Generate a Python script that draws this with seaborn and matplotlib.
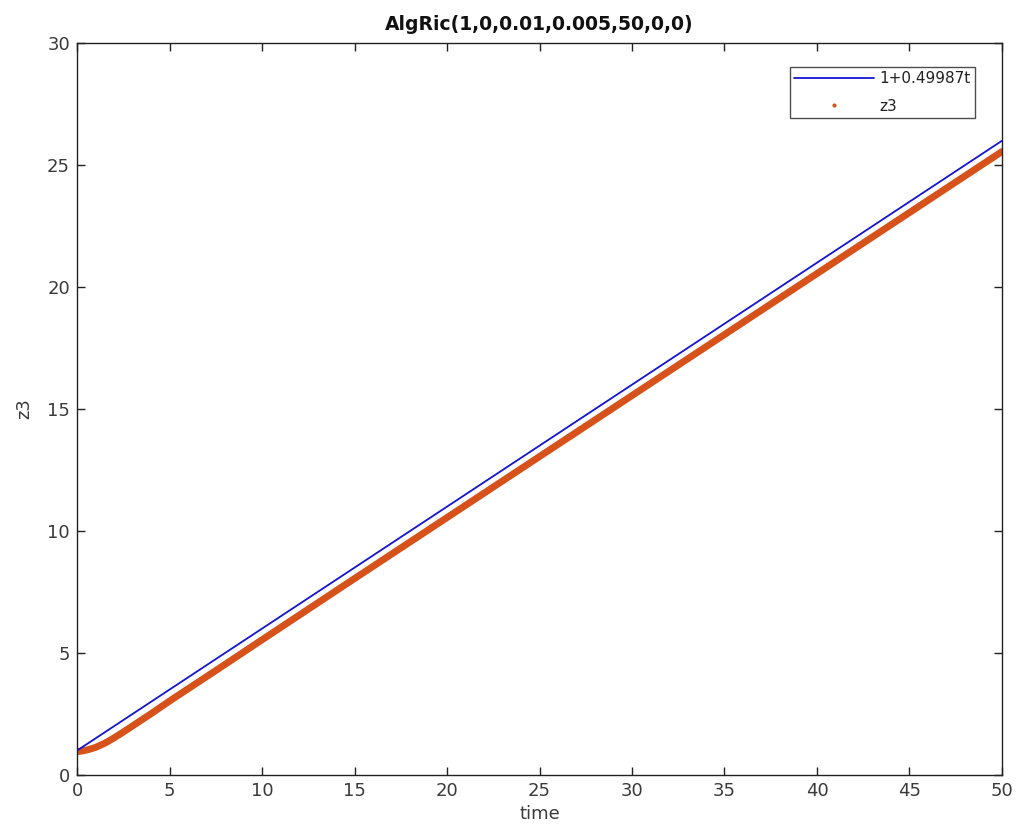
import numpy as np
import pandas as pd
import matplotlib
matplotlib.use("Agg")
import matplotlib.pyplot as plt
from matplotlib.lines import Line2D
import seaborn as sns

# fitted line: 1 + 0.49987 t, drawn between its two end points
line_t = [0, 50]
line_z = [1.0, 25.9935]

# z3 values
z3_t = [0, 0.25, 0.5, 0.75, 1, 1.5, 2, 2.5, 3, 3.5, 4, 5, 7.5, 10,
        15, 20, 25, 30, 35, 40, 45, 50]
z3_z = [0.96, 0.98, 1.02, 1.07, 1.13, 1.3, 1.52, 1.76, 2.01, 2.26, 2.51,
        3.03, 4.28, 5.54, 8.05, 10.55, 13.05, 15.55, 18.05, 20.55, 23.05, 25.55]

sns.set_style("ticks")
plt.rcParams['font.family'] = ['DejaVu Sans']

fig = plt.figure(figsize=(10.19, 8.38), dpi=100)
ax = fig.add_axes([0.0756, 0.0752, 0.9077, 0.8735])

orange = '#D6521A'
blue = '#1414d2'
grey = '#3a3a3a'

df = pd.DataFrame({'time': z3_t, 'z3': z3_z})
sns.lineplot(data=df, x='time', y='z3', ax=ax, color=orange, linewidth=5,
             solid_capstyle='round', zorder=2)
sns.lineplot(x=line_t, y=line_z, ax=ax, color=blue, linewidth=1.3, zorder=3)

ax.set_xlim(0, 50)
ax.set_ylim(0, 30)
ax.set_xticks(range(0, 51, 5))
ax.set_yticks(range(0, 31, 5))
ax.tick_params(direction='in', length=6, width=1, top=True, right=True,
               labelsize=13, labelcolor=grey, color='#222222', pad=5)
for s in ax.spines.values():
    s.set_visible(True)
    s.set_color('#222222')
    s.set_linewidth(1.0)

ax.set_title("AlgRic(1,0,0.01,0.005,50,0,0)", fontsize=13.5, fontweight='bold',
             color='#111111', pad=9)
ax.set_xlabel("time", fontsize=13, color=grey, labelpad=4)
ax.set_ylabel("z3", fontsize=13, color=grey, labelpad=10)

handles = [Line2D([], [], color=blue, linewidth=1.3),
           Line2D([], [], color=orange, marker='.', linestyle='none', markersize=4)]
leg = ax.legend(handles, ['1+0.49987t', 'z3'], loc='upper right',
                bbox_to_anchor=(0.971, 0.967), borderaxespad=0, fontsize=11,
                frameon=True, fancybox=False, edgecolor='#222222', handlelength=5.2,
                handletextpad=0.4, labelspacing=0.8, borderpad=0.28)
leg.get_frame().set_linewidth(1.0)
for txt in leg.get_texts():
    txt.set_color('#222222')

fig.savefig("out.png", dpi=100)
